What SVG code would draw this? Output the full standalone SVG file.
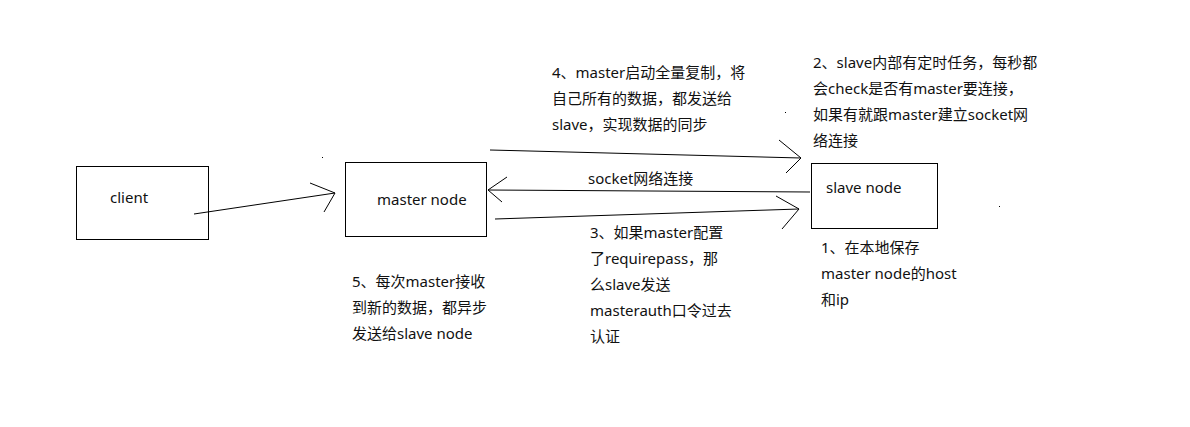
<svg xmlns="http://www.w3.org/2000/svg" width="1190" height="427" viewBox="0 0 1190 427">
<style>
.box{fill:#fff;stroke:#000;stroke-width:1}
.ln{fill:none;stroke:#000;stroke-width:1}
text{font-family:"Noto Sans","Noto Sans CJK SC",sans-serif;font-size:15px;fill:#111}
</style>
<rect width="1190" height="427" fill="#fff"/>
<g id="client"><rect class="box" x="76.5" y="166.5" width="132" height="73"/><text x="110" y="203">client</text></g>
<g id="master"><rect class="box" x="345.5" y="162.5" width="141" height="74"/><text x="377" y="205">master node</text></g>
<g id="slave"><rect class="box" x="811.5" y="163.5" width="126" height="65"/><text x="826" y="193">slave node</text></g>
<g id="connectors">
<path class="ln" d="M194 214 L335 193 M310 183 L335 193 L324 212"/>
<path class="ln" d="M490 150 L801 158 M779 140 L801 158 L786 173"/>
<path class="ln" d="M810 192 L488 190 M507 177 L488 190 L502 202"/>
<path class="ln" d="M495 219 L799 209 M776 196 L799 209 L782 229"/>
<rect x="322" y="157" width="1" height="1" fill="#000"/>
<rect x="785" y="112" width="1" height="1" fill="#000"/>
<rect x="999" y="206" width="1" height="1" fill="#000"/>
</g>
<g id="labels">
<text x="588" y="184">socket网络连接</text>
<text x="552" y="78">4、master启动全量复制，将</text>
<text x="552" y="104">自己所有的数据，都发送给</text>
<text x="552" y="130">slave，实现数据的同步</text>
<text x="813" y="68">2、slave内部有定时任务，每秒都</text>
<text x="813" y="94">会check是否有master要连接，</text>
<text x="813" y="120">如果有就跟master建立socket网</text>
<text x="813" y="146">络连接</text>
<text x="821" y="253">1、在本地保存</text>
<text x="821" y="279">master node的host</text>
<text x="821" y="305">和ip</text>
<text x="352" y="287">5、每次master接收</text>
<text x="352" y="313">到新的数据，都异步</text>
<text x="352" y="339">发送给slave node</text>
<text x="590" y="238">3、如果master配置</text>
<text x="590" y="264">了requirepass，那</text>
<text x="590" y="290">么slave发送</text>
<text x="590" y="316">masterauth口令过去</text>
<text x="590" y="342">认证</text>
</g>
</svg>
